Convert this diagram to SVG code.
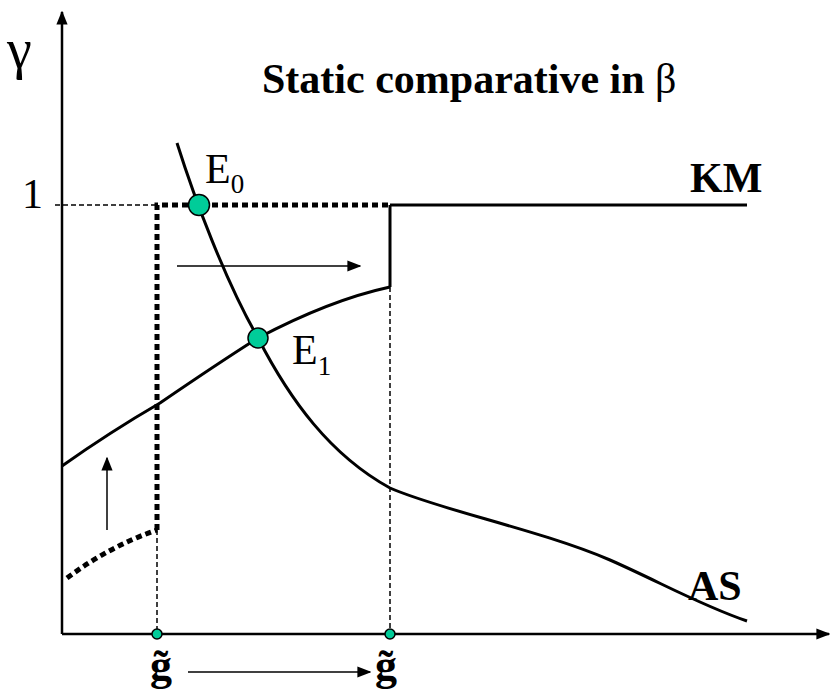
<svg xmlns="http://www.w3.org/2000/svg" width="830" height="692" viewBox="0 0 830 692">
<style>
.t{font-family:"Liberation Serif","Times New Roman",serif;fill:#000}
.b{font-weight:bold}
.ln{fill:none;stroke:#000;stroke-width:3}
.thin{fill:none;stroke:#000;stroke-width:1.5}
.dash{fill:none;stroke:#000;stroke-width:1.5;stroke-dasharray:5,3}
.dot{fill:none;stroke:#000;stroke-width:5;stroke-dasharray:6,4}
.pt{fill:#00cc99;stroke:#000;stroke-width:1.5}
</style>
<defs>
<marker id="ah2" viewBox="0 0 10 10" refX="9" refY="5" markerWidth="14" markerHeight="14" markerUnits="userSpaceOnUse" orient="auto"><path d="M0,1 L10,5 L0,9 z" fill="#000"/></marker>
</defs>
<g id="axes">
<line class="ln" x1="62" y1="634" x2="62" y2="12" style="stroke-width:2.5" marker-end="url(#ah2)"/>
<line class="ln" x1="62" y1="634" x2="829" y2="634" style="stroke-width:2.5" marker-end="url(#ah2)"/>
</g>
<g id="connectors">
<line class="dash" x1="55" y1="205" x2="157" y2="205"/>
<line class="dash" x1="157" y1="530" x2="157" y2="634"/>
<line class="dash" x1="390" y1="287" x2="390" y2="634"/>
<path class="dot" d="M157,530 L157,205 L390,205"/>
<path class="dot" d="M67,578 Q110,546 157,530"/>
<path class="ln" d="M390,205 L747,205 M390,205 L390,287"/>
<path class="ln" d="M62,466 Q110,432 160,403 Q220,362 258,338 Q330,300 390,287"/>
<path class="ln" d="M177,143 C195,200 225,280 258,338 C290,400 330,455 390,488 C440,510 540,530 610,560 C660,582 700,605 747,621"/>
<line class="thin" x1="177" y1="266" x2="360" y2="266" marker-end="url(#ah2)"/>
<line class="thin" x1="107" y1="530" x2="107" y2="458" marker-end="url(#ah2)"/>
<line class="thin" x1="188" y1="672" x2="370" y2="672" marker-end="url(#ah2)"/>
</g>
<g id="E0"><circle class="pt" cx="199" cy="205" r="10.5"/><text class="t" x="205" y="183" font-size="42">E<tspan font-size="27" dy="10">0</tspan></text></g>
<g id="E1"><circle class="pt" cx="258" cy="338" r="10"/><text class="t" x="292" y="364" font-size="42">E<tspan font-size="27" dy="11">1</tspan></text></g>
<g id="g1"><circle class="pt" cx="157" cy="634" r="5"/><text class="t b" x="161" y="680" font-size="44" text-anchor="middle">g̃</text></g>
<g id="g2"><circle class="pt" cx="390" cy="634" r="5"/><text class="t b" x="386" y="680" font-size="44" text-anchor="middle">g̃</text></g>
<g id="labels">
<text class="t" x="7" y="68" font-size="56">γ</text>
<text class="t" x="22" y="208" font-size="42">1</text>
<text class="t b" x="262" y="93" font-size="42">Static comparative in <tspan font-weight="normal">β</tspan></text>
<text class="t b" x="690" y="192" font-size="42">KM</text>
<text class="t b" x="688" y="600" font-size="42">AS</text>
</g>
</svg>
